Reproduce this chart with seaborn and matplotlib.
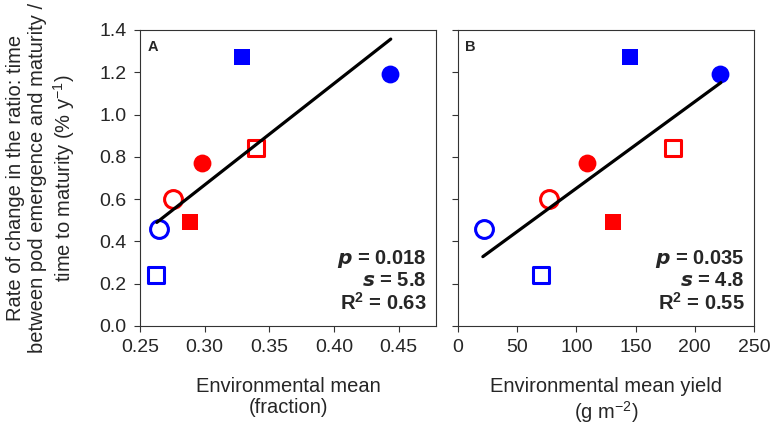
import numpy as np
import pandas as pd
import matplotlib
matplotlib.use("Agg")
import matplotlib.pyplot as plt
import seaborn as sns

# valori
rate = [1.27, 1.19, 0.84, 0.77, 0.60, 0.49, 0.46, 0.24]
env_fraction = [0.329, 0.4435, 0.340, 0.298, 0.2756, 0.289, 0.2647, 0.262]
env_yield = [145, 221, 182, 109, 77, 131, 22, 70]
point_color = ["blue", "blue", "red", "red", "red", "red", "blue", "blue"]
point_marker = ["s", "o", "s", "o", "o", "s", "o", "s"]
point_filled = [True, True, False, True, False, True, False, False]

# rette di regressione (estremi)
fit_a_x = [0.263, 0.444]
fit_a_y = [0.49, 1.357]
fit_b_x = [21, 222]
fit_b_y = [0.328, 1.151]

stats_a = ["0.018", "5.8", "0.63"]
stats_b = ["0.035", "4.8", "0.55"]

df = pd.DataFrame({"rate": rate, "frac": env_fraction, "yield": env_yield,
                   "color": point_color, "marker": point_marker, "filled": point_filled})

sns.set_style("ticks")
plt.rcParams["font.family"] = ["Liberation Sans", "DejaVu Sans"]
plt.rcParams["mathtext.fontset"] = "custom"
plt.rcParams["mathtext.rm"] = "Liberation Sans"
plt.rcParams["mathtext.it"] = "Liberation Sans:italic"
plt.rcParams["mathtext.bf"] = "Liberation Sans:bold"

fig = plt.figure(figsize=(7.73, 4.26), dpi=100)
ax_a = fig.add_axes([140 / 773, 100 / 426, 296 / 773, 296 / 426])
ax_b = fig.add_axes([458 / 773, 100 / 426, 296 / 773, 296 / 426])


def draw_points(ax, xcol):
    for _, r in df.iterrows():
        face = r["color"] if r["filled"] else "white"
        sns.scatterplot(x=[r[xcol]], y=[r["rate"]], ax=ax, marker=r["marker"], s=165 if r["marker"] == "o" else 140,
                        facecolor=face, edgecolor=r["color"], linewidth=0 if r["filled"] else 2.2,
                        zorder=3, legend=False)


draw_points(ax_a, "frac")
draw_points(ax_b, "yield")
sns.lineplot(x=fit_a_x, y=fit_a_y, ax=ax_a, color="black", linewidth=2.3, zorder=4)
sns.lineplot(x=fit_b_x, y=fit_b_y, ax=ax_b, color="black", linewidth=2.3, zorder=4)

for ax, letter, st in [(ax_a, "A", stats_a), (ax_b, "B", stats_b)]:
    ax.set_ylim(0, 1.4)
    ax.set_yticks(np.arange(0, 1.41, 0.2))
    for sp in ax.spines.values():
        sp.set_visible(True)
        sp.set_linewidth(0.8)
        sp.set_color("#333333")
    ax.tick_params(labelsize=14, length=4.5, width=0.8, color="#333333", pad=5)
    ax.text(0.025, 0.965, letter, transform=ax.transAxes, fontsize=10.5, fontweight="bold",
            ha="left", va="top")
    ax.text(0.967, 0.04, r"$\mathbfit{p}$ = " + st[0] + "\n" + r"$\mathbfit{s}$ = " + st[1] + "\n" +
            r"R$^\mathbf{2}$ = " + st[2],
            transform=ax.transAxes, fontsize=14.5, fontweight="bold", ha="right", va="bottom",
            linespacing=1.1)

ax_a.set_xlim(0.25, 0.479)
ax_a.set_xticks([0.25, 0.30, 0.35, 0.40, 0.45])
ax_a.set_xticklabels(["0.25", "0.30", "0.35", "0.40", "0.45"])
ax_a.set_yticklabels([f"{v:.1f}" for v in np.arange(0, 1.41, 0.2)])
ax_a.set_xlabel("Environmental mean\n(fraction)", fontsize=14.5, labelpad=15, linespacing=1.15)
ax_a.set_ylabel("Rate of change in the ratio: time\nbetween pod emergence and maturity /\n"
                "time to maturity (% y$^{-1}$)", fontsize=14.5, labelpad=16, linespacing=1.2)

ax_b.set_xlim(0, 250)
ax_b.set_xticks([0, 50, 100, 150, 200, 250])
ax_b.set_yticklabels([])
ax_b.set_xlabel("Environmental mean yield\n(g m$^{-2}$)", fontsize=14.5, labelpad=15, linespacing=1.15)
ax_b.set_ylabel("")

fig.savefig("out.png", dpi=100)
